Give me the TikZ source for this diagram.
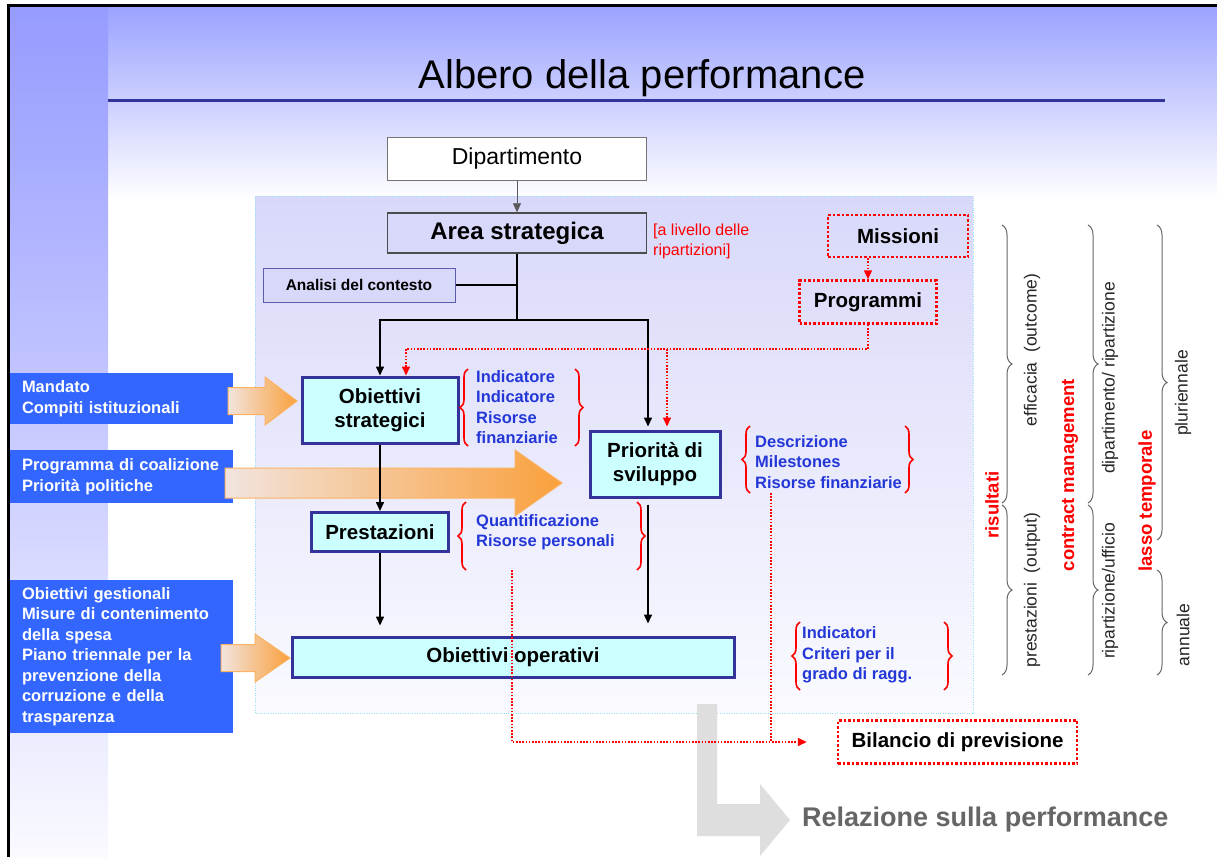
\documentclass[tikz,border=0pt]{standalone}
\usepackage{fontspec}
\setmainfont{Liberation Sans}
\usetikzlibrary{arrows.meta,decorations.pathreplacing}

\definecolor{slideblue}{RGB}{150,155,255}
\definecolor{topblue}{RGB}{155,162,255}
\definecolor{panelblue}{RGB}{216,216,250}
\definecolor{panelfoot}{RGB}{250,250,255}
\definecolor{boxcyan}{RGB}{204,255,255}
\definecolor{boxborder}{RGB}{51,51,153}
\definecolor{inputblue}{RGB}{51,102,255}
\definecolor{noteblue}{RGB}{35,55,215}
\definecolor{arrowlight}{RGB}{242,228,222}
\definecolor{arroworange}{RGB}{250,160,60}

\begin{document}
\begin{tikzpicture}[
        x=1pt, y=-1pt,
        every node/.style={inner sep=0pt},
        plainbox/.style={draw=black!55, line width=0.8pt, fill=white, minimum width=259pt, minimum height=43pt, font=\fontsize{23}{27}\selectfont},
        areabox/.style={draw=black!70, line width=1.5pt, fill=panelblue, minimum width=259pt, minimum height=40pt, font=\fontsize{24}{28}\selectfont\bfseries},
        contextbox/.style={draw=boxborder!80, line width=1pt, fill=panelblue, minimum width=192pt, minimum height=34pt, font=\fontsize{15.5}{18}\selectfont\bfseries},
        objbox/.style={draw=boxborder, line width=3pt, fill=boxcyan, align=center, font=\fontsize{20.5}{24.5}\selectfont\bfseries},
        redbox/.style={draw=red, line width=2.5pt, dash pattern=on 2.5pt off 2pt, font=\fontsize{20.5}{24}\selectfont\bfseries},
        inputbox/.style={fill=inputblue, text=white, text width=199pt, inner xsep=12pt, align=left, font=\fontsize{16.5}{20.5}\selectfont\bfseries},
        notelist/.style={text=noteblue, align=left, font=\fontsize{16.5}{20.5}\selectfont\bfseries},
        sidelabel/.style={rotate=90, text=black!85, font=\fontsize{17.5}{20}\selectfont},
        sidetitle/.style={rotate=90, text=red, font=\fontsize{18.5}{22}\selectfont\bfseries},
        tree/.style={draw, line width=1.5pt},
        treearrow/.style={tree, -{Triangle[length=9pt,width=8pt]}},
        redlink/.style={draw=red, line width=1.6pt, dash pattern=on 1.6pt off 1.6pt},
        redarrow/.style={redlink, -{Triangle[length=9pt,width=8pt]}},
        redbrace/.style={draw=red, line width=1.6pt, decorate, decoration={brace, amplitude=8pt}},
        graybrace/.style={draw=black!60, line width=1pt, decorate, decoration={brace, amplitude=10pt}},
        fatarrow/.style={draw=arroworange!80, line width=1pt, left color=arrowlight, right color=arroworange},
    ]
    \useasboundingbox (0,0) rectangle (1217,857);
    % First we draw the slide background
    \fill[white] (0,0) rectangle (1217,857);
    \path[top color=topblue, bottom color=white] (10,6) rectangle (1217,200);
    \path[top color=slideblue, bottom color=panelfoot] (10,6) rectangle (108,857);
    \draw[line width=3pt] (8.5,857) -- (8.5,5.5) -- (1217,5.5);
    \node[font=\fontsize{40}{48}\selectfont, anchor=base] (titolo) at (642,88) {Albero della performance};
    \draw[line width=3pt, boxborder] (108,100) -- (1165,100);
    \path[top color=panelblue, bottom color=panelfoot, draw=cyan!40, dotted] (255,196) rectangle (973,713);

    % Boxes of the tree
    \node[plainbox] (dip) at (517,159) {Dipartimento};
    \node[areabox] (area) at (517,233) {Area strategica};
    \node[anchor=west, align=left, text=red, font=\fontsize{16}{20}\selectfont] (livello) at (653,241) {[a livello delle\\ripartizioni]};
    \node[contextbox] (analisi) at (359,285) {Analisi del contesto};
    \node[objbox, minimum width=156pt, minimum height=66pt] (obstrat) at (380,410) {Obiettivi\\strategici};
    \node[objbox, minimum width=130pt, minimum height=66pt] (priorita) at (655,464) {Priorità di\\sviluppo};
    \node[objbox, minimum width=137pt, minimum height=39pt] (prestaz) at (380,532) {Prestazioni};
    \node[objbox, minimum width=442pt, minimum height=40pt] (oboper) at (513,657) {Obiettivi operativi};
    \node[redbox, minimum width=140pt, minimum height=42pt] (missioni) at (898,236) {Missioni};
    \node[redbox, minimum width=137pt, minimum height=43pt] (programmi) at (868,302) {Programmi};
    \node[redbox, minimum width=239pt, minimum height=43pt] (bilancio) at (957.5,742) {Bilancio di previsione};

    % Inputs on the left
    \node[inputbox, minimum height=51pt] (mandato) at (121.5,398.5) {Mandato\\Compiti istituzionali};
    \node[inputbox, minimum height=53pt] (coalizione) at (121.5,476.5) {Programma di coalizione\\Priorità politiche};
    \node[inputbox, minimum height=153pt] (gestionali) at (121.5,656.5) {Obiettivi gestionali\\Misure di contenimento\\della spesa\\Piano triennale per la\\prevenzione della\\corruzione e della\\trasparenza};
    \foreach \xa/\xb/\xc/\yc/\sh/\hd in {228/265/297/401/13.5/24, 225/515/562/483/15/33, 221/255/290/658/13.5/24}
        \draw[fatarrow] (\xa,\yc-\sh) -- (\xb,\yc-\sh) -- (\xb,\yc-\hd) -- (\xc,\yc)
            -- (\xb,\yc+\hd) -- (\xb,\yc+\sh) -- (\xa,\yc+\sh) -- cycle;

    % Grey arrow to the report
    \fill[black!13] (697,704) -- (717,704) -- (717,804) -- (760,804) -- (760,784) -- (790,820)
        -- (760,856) -- (760,836) -- (697,836) -- cycle;
    \node[anchor=west, text=black!60, font=\fontsize{27}{31}\selectfont\bfseries] (relazione) at (802,820) {Relazione sulla performance};

    % Notes with their braces
    \node[notelist, anchor=west] (indic) at (476,407) {Indicatore\\Indicatore\\Risorse\\finanziarie};
    \node[notelist, anchor=west] (descr) at (755,462) {Descrizione\\Milestones\\Risorse finanziarie};
    \node[notelist, anchor=west] (quant) at (476,532) {Quantificazione\\Risorse personali};
    \node[notelist, anchor=west] (crit) at (802,655) {Indicatori\\Criteri per il\\grado di ragg.};
    \foreach \xl/\xr/\yt/\yb in {468/575/369/446, 750/905/426/493, 466/637/502/570, 800/944/622/690} {
        \draw[redbrace] (\xl,\yb) -- (\xl,\yt);
        \draw[redbrace] (\xr,\yt) -- (\xr,\yb);
    }

    % Connect the boxes of the tree
    \coordinate (fork) at (517,320);
    \coordinate (redlevel) at (0,349);
    \coordinate (blackp) at ([xshift=-7pt]priorita.north);
    \coordinate (redp) at ([xshift=12pt]priorita.north);
    \coordinate (blackq) at ([xshift=-7pt]priorita.south);
    \coordinate (qfoot) at (512,570);
    \coordinate (dfoot) at (771,493);
    \draw[treearrow, draw=black!65, line width=0.8pt] (dip) -- (area);
    \draw[tree] (area.south) -- (fork);
    \draw[tree] (analisi.east) -- (analisi.east -| area.south);
    \draw[treearrow] (fork) -| (obstrat.north);
    \draw[treearrow, shorten >=3pt] (fork) -| (blackp);
    \draw[treearrow] (obstrat.south) -- (prestaz.north);
    \draw[treearrow, shorten >=10pt] (prestaz.south) -- (prestaz.south |- oboper.north);
    \draw[treearrow, shorten <=6pt, shorten >=12pt] (blackq) -- (blackq |- oboper.north);
    % Red dotted links
    \draw[redarrow] (missioni.south -| programmi.north) -- (programmi.north);
    \draw[redarrow] (programmi.south) -- (programmi.south |- redlevel) -| ([xshift=26pt]obstrat.north);
    \draw[redarrow, shorten >=3pt] (redp |- redlevel) -- (redp);
    \draw[redarrow, shorten >=30pt] (qfoot) |- (bilancio.west);
    \draw[redlink] (dfoot) -- (dfoot |- bilancio.west);

    % Labels on the right side
    \foreach \pos/\name/\txt in {{(992,505)/risultati/risultati}, {(1070,475)/contract/contract management}, {(1147,501)/lasso/lasso temporale}}
        \node[sidetitle] (\name) at \pos {\txt};
    \foreach \pos/\name/\txt in {{(1032,350)/efficacia/efficacia\ \ (outcome)}, {(1032,590)/output/prestazioni\ \ (output)},
            {(1110,378)/dipart/{dipartimento/ ripartizione}}, {(1110,591)/ufficio/{ripartizione/ufficio}},
            {(1183,393)/pluri/pluriennale}, {(1183,635)/annuale/annuale}}
        \node[sidelabel] (\name) at \pos {\txt};
    \foreach \xb/\yt/\yb in {1002/225/503, 1002/505/675, 1088/225/503, 1088/505/675, 1157/225/540, 1157/570/675}
        \draw[graybrace] (\xb,\yt) -- (\xb,\yb);
\end{tikzpicture}
\end{document}
